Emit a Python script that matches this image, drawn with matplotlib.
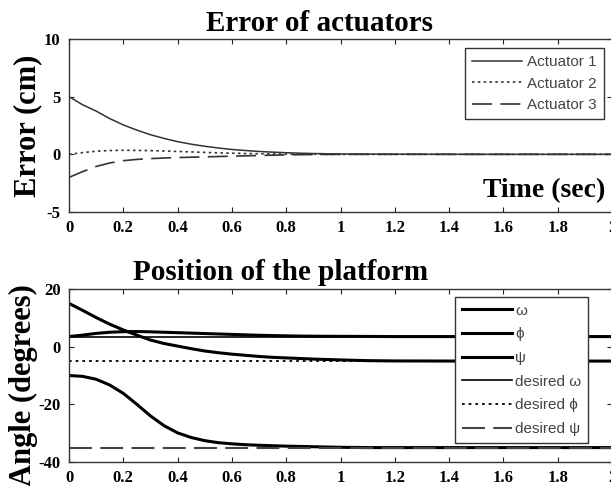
import numpy as np
import matplotlib
matplotlib.use("Agg")
import matplotlib.pyplot as plt

plt.rcParams["font.family"] = ["Liberation Serif", "DejaVu Serif"]
plt.rcParams["font.weight"] = "bold"
plt.rcParams["axes.titleweight"] = "bold"
plt.rcParams["axes.labelweight"] = "bold"
plt.rcParams["axes.unicode_minus"] = False

# time samples (sec)
t = [0, .05, .1, .15, .2, .25, .3, .35, .4, .45, .5, .55, .6, .65, .7, .75,
     .8, .85, .9, .95, 1.0, 1.1, 1.2, 1.5, 2.0]

# actuator errors (cm)
act1 = [5.0, 4.3, 3.75, 3.1, 2.55, 2.1, 1.7, 1.38, 1.1, 0.88, 0.7, 0.55, 0.42,
        0.33, 0.25, 0.19, 0.14, 0.1, 0.07, 0.05, 0.03, 0.02, 0.01, 0, 0]
act2 = [0, 0.15, 0.27, 0.33, 0.35, 0.34, 0.32, 0.29, 0.25, 0.21, 0.17, 0.13,
        0.1, 0.07, 0.05, 0.03, 0.02, 0.01, 0.01, 0, 0, 0, 0, 0, 0]
act3 = [-2.0, -1.5, -1.05, -0.75, -0.55, -0.44, -0.37, -0.32, -0.28, -0.25,
        -0.22, -0.19, -0.16, -0.13, -0.1, -0.07, -0.05, -0.03, -0.02, -0.01,
        0, 0, 0, 0, 0]

# platform angles (degrees)
omega = [3.5, 4.0, 4.6, 5.0, 5.2, 5.25, 5.15, 5.0, 4.85, 4.7, 4.55, 4.4, 4.25,
         4.1, 3.95, 3.85, 3.75, 3.68, 3.63, 3.6, 3.58, 3.55, 3.5, 3.5, 3.5]
phi = [15, 12.6, 10.1, 7.8, 5.8, 4.0, 2.3, 1.1, 0.2, -0.7, -1.5, -2.1, -2.6,
       -3.0, -3.4, -3.7, -3.9, -4.1, -4.3, -4.45, -4.6, -4.85, -4.95, -5, -5]
psi = [-10, -10.3, -11.3, -13.3, -16.2, -20.0, -24.0, -27.4, -29.9, -31.5,
       -32.6, -33.3, -33.7, -34.0, -34.2, -34.35, -34.5, -34.6, -34.7, -34.8,
       -34.9, -35, -35, -35, -35]
omega_d = 3.5
phi_d = -5
psi_d = -35

xticks = [0, 0.2, 0.4, 0.6, 0.8, 1, 1.2, 1.4, 1.6, 1.8, 2]
xtick_labels = ["0", "0.2", "0.4", "0.6", "0.8", "1", "1.2", "1.4", "1.6", "1.8", "2"]

W, H = 611, 486
fig = plt.figure(figsize=(W / 100, H / 100), dpi=100)
ax1 = fig.add_axes([69 / W, 1 - 212 / H, 543 / W, 173 / H])
ax2 = fig.add_axes([69 / W, 1 - 462 / H, 543 / W, 173 / H])

leg_font = {"family": ["Liberation Sans", "DejaVu Sans"], "weight": "normal", "size": 11}

# top: error of actuators
ax1.plot(t, act1, color="#333333", lw=1.1, label="Actuator 1")
ax1.plot(t, act2, color="#333333", lw=1.2, dashes=(1.5, 2), label="Actuator 2")
ax1.plot(t, act3, color="#333333", lw=1.2, dashes=(12, 5), label="Actuator 3")
ax1.set_ylim(-5, 10)
ax1.set_yticks([-5, 0, 5, 10])
ax1.set_title("Error of actuators", fontsize=21, fontweight="bold",
              x=0.462, y=1 + 8 / 173, pad=0)
ax1.set_ylabel("Error (cm)", fontsize=22, fontweight="bold")
ax1.yaxis.set_label_coords(-0.05, 0.5)
ax1.set_xlabel("Time (sec)", fontsize=20, fontweight="bold")
ax1.xaxis.set_label_coords(0.876, 0.0867)
ax1.xaxis.label.set_va("baseline")
leg1 = ax1.legend(loc="upper right", bbox_to_anchor=(0.985, 0.948), borderaxespad=0,
                  prop=leg_font, handlelength=3.3, handletextpad=0.35,
                  labelspacing=0.5, borderpad=0.45, fancybox=False, framealpha=1,
                  edgecolor="#333333", labelcolor="#444444")
leg1.get_frame().set_linewidth(1.0)

# bottom: platform position
ax2.plot(t, omega, color="black", lw=2.2, label="ω")
ax2.plot(t, phi, color="black", lw=2.2, label="ϕ")
ax2.plot(t, psi, color="black", lw=2.2, label="ψ")
ax2.plot([t[0], t[-1]], [omega_d, omega_d], color="black", lw=1.2, label="desired ω")
ax2.plot([t[0], t[-1]], [phi_d, phi_d], color="black", lw=1.3, dashes=(1.5, 2.2),
         label="desired ϕ")
ax2.plot([t[0], t[-1]], [psi_d, psi_d], color="#444444", lw=1.5, dashes=(11, 4),
         label="desired ψ")
ax2.set_ylim(-40, 20)
ax2.set_yticks([-40, -20, 0, 20])
ax2.set_title("Position of the platform", fontsize=21, fontweight="bold",
              x=0.39, y=1 + 9 / 173, pad=0)
ax2.set_ylabel("Angle (degrees)", fontsize=22, fontweight="bold")
ax2.yaxis.set_label_coords(-0.058, 0.445)
leg2 = ax2.legend(loc="upper right", bbox_to_anchor=(0.956, 0.954), borderaxespad=0,
                  prop=leg_font, handlelength=3.3, handletextpad=0.2,
                  labelspacing=0.63, borderpad=0.45, fancybox=False, framealpha=1,
                  edgecolor="#333333", labelcolor="#444444")
leg2.get_frame().set_linewidth(1.0)

for ax in (ax1, ax2):
    ax.set_xlim(0, 2)
    ax.set_xticks(xticks)
    ax.set_xticklabels(xtick_labels, fontweight="bold")
    ax.tick_params(direction="in", length=3.6, width=0.8, top=True, right=True,
                   labelsize=12, pad=6, colors="#222222", labelcolor="black")
    for lbl in ax.get_yticklabels():
        lbl.set_fontweight("bold")
    for s in ax.spines.values():
        s.set_linewidth(1.0)
        s.set_color("#333333")

fig.savefig("out.png", dpi=100)
